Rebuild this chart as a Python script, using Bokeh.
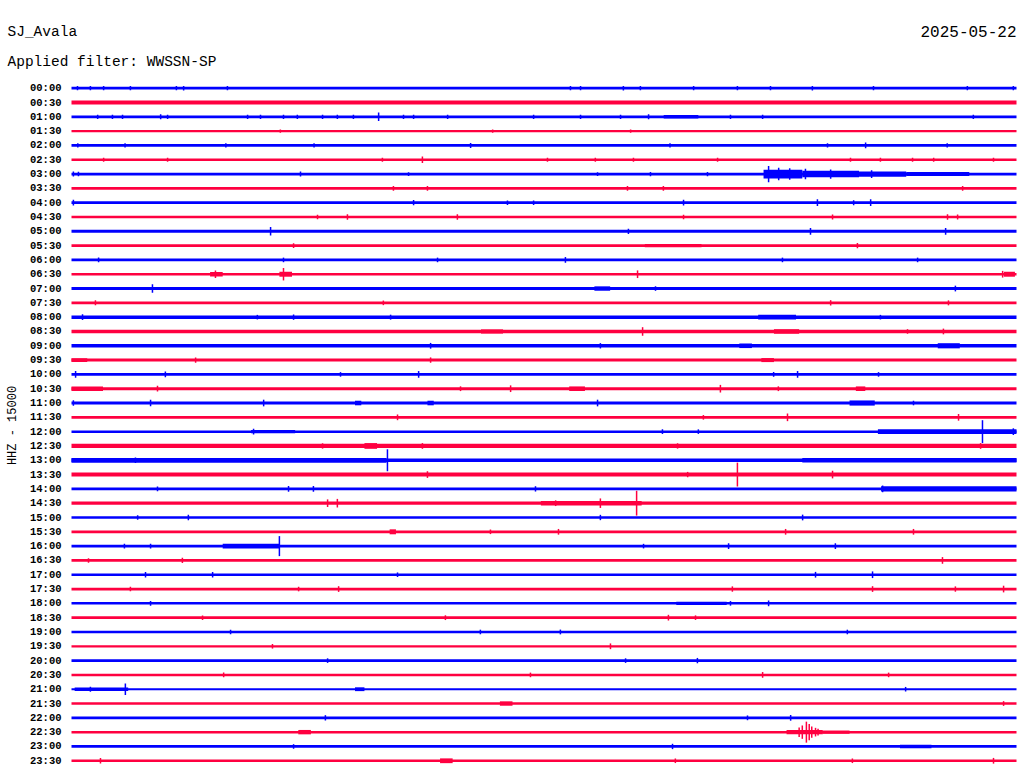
import numpy as np
from bokeh.plotting import figure
from bokeh.models import Range1d, Label
from bokeh.core.properties import value
from bokeh.embed import file_html
from bokeh.resources import INLINE

# ---------------- data ----------------
station = "SJ_Avala"
date_text = "2025-05-22"
filter_text = "Applied filter: WWSSN-SP"
channel_text = "HHZ - 15000"
counts_per_line = 15000      # trace spacing in counts
minutes_per_line = 30

line_labels = ["00:00", "00:30", "01:00", "01:30", "02:00", "02:30", "03:00", "03:30",
               "04:00", "04:30", "05:00", "05:30", "06:00", "06:30", "07:00", "07:30",
               "08:00", "08:30", "09:00", "09:30", "10:00", "10:30", "11:00", "11:30",
               "12:00", "12:30", "13:00", "13:30", "14:00", "14:30", "15:00", "15:30",
               "16:00", "16:30", "17:00", "17:30", "18:00", "18:30", "19:00", "19:30",
               "20:00", "20:30", "21:00", "21:30", "22:00", "22:30", "23:00", "23:30"]

# background noise half-amplitude per line (counts)
base_noise = [1400, 2000, 1400, 1200, 1400, 1400, 1400, 1500,
              1400, 1400, 1600, 1400, 1400, 1400, 1600, 1400,
              1800, 1800, 1800, 1600, 1500, 1600, 1500, 1400,
              1300, 2200, 1800, 2100, 1400, 1700, 1400, 1400,
              1400, 1500, 1300, 1400, 1300, 1400, 1400, 1200,
              1400, 1300, 1100, 1300, 1400, 1300, 1400, 1400]

# noisy intervals: (line, start minute, end minute, half-amplitude counts)
bursts = [
    (2, 18.8, 19.9, 1800),
    (6, 21.97, 23.2, 4600), (6, 23.2, 25.0, 3400), (6, 25.0, 26.5, 2700), (6, 26.5, 28.5, 2100),
    (11, 18.2, 20.0, 1700),
    (13, 4.4, 4.8, 2400), (13, 6.6, 7.0, 2600), (13, 29.6, 29.95, 2600),
    (14, 16.6, 17.1, 2300),
    (16, 21.8, 23.0, 2400),
    (17, 13.0, 13.7, 2200), (17, 22.3, 23.1, 2400),
    (18, 21.2, 21.6, 2400), (18, 27.5, 28.2, 2700),
    (19, 0.0, 0.5, 2000), (19, 21.9, 22.3, 2100),
    (21, 0.0, 1.0, 2300), (21, 15.8, 16.3, 2400), (21, 24.9, 25.2, 2400),
    (22, 9.0, 9.2, 2400), (22, 11.3, 11.5, 2400), (22, 24.7, 25.5, 2700),
    (24, 5.7, 7.1, 1800), (24, 25.6, 30.0, 2400),
    (25, 9.3, 9.7, 3000),
    (26, 0.0, 10.0, 2500), (26, 23.2, 30.0, 2300),
    (28, 25.7, 30.0, 2700),
    (29, 14.9, 18.1, 2300),
    (31, 10.1, 10.3, 2600),
    (32, 4.8, 6.6, 2500),
    (36, 19.2, 20.8, 1700),
    (42, 0.1, 1.8, 1800), (42, 9.0, 9.3, 2000),
    (43, 13.6, 14.0, 2300),
    (45, 7.2, 7.6, 2300), (45, 22.7, 23.85, 2300), (45, 23.85, 24.7, 1700),
    (46, 26.3, 27.3, 1900),
    (47, 11.7, 12.1, 2500),
]

# individual peaks: (line, minute, half-amplitude counts)
spikes = [
    (0, 0.19, 2200), (0, 0.60, 2200), (0, 1.02, 2200), (0, 1.87, 2200), (0, 3.33, 2200),
    (0, 3.56, 2400), (0, 4.95, 2200), (0, 15.84, 2200), (0, 16.16, 2200), (0, 17.52, 2400),
    (0, 18.06, 2200), (0, 19.75, 2200), (0, 21.14, 2200), (0, 22.19, 2200), (0, 23.52, 2400),
    (0, 25.46, 2200), (0, 28.44, 2200), (0, 29.90, 2200),
    (2, 0.83, 2200), (2, 1.30, 2200), (2, 1.62, 2200), (2, 2.83, 2600), (2, 3.05, 2200),
    (2, 5.59, 2200), (2, 6.00, 2200), (2, 6.73, 2200), (2, 7.17, 2200), (2, 7.97, 2200),
    (2, 8.44, 2200), (2, 8.95, 2200), (2, 9.75, 4500), (2, 10.54, 2200), (2, 10.86, 2200),
    (2, 11.94, 2200), (2, 14.67, 2200), (2, 16.16, 2200), (2, 17.43, 2200), (2, 18.32, 2600),
    (2, 20.92, 2200), (2, 21.94, 2200), (2, 28.63, 2200),
    (3, 6.63, 1800), (3, 13.37, 1800), (3, 17.75, 1800),
    (4, 0.2, 2200), (4, 1.7, 2200), (4, 4.9, 2200), (4, 7.7, 2200), (4, 12.67, 2600),
    (4, 19.0, 2200), (4, 24.0, 2200), (4, 25.21, 3000), (4, 27.8, 2200),
    (5, 1.02, 2200), (5, 3.05, 2200), (5, 9.87, 2200), (5, 11.14, 3500), (5, 15.11, 2200),
    (5, 16.63, 2200), (5, 17.84, 2200), (5, 20.51, 2200), (5, 24.73, 2200), (5, 25.68, 2200),
    (5, 26.70, 2200), (5, 27.37, 2200), (5, 29.27, 2200),
    (6, 0.06, 2600), (6, 0.22, 2400), (6, 7.27, 2600), (6, 10.70, 2000), (6, 16.70, 2000),
    (6, 18.38, 2200), (6, 20.19, 2200),
    (6, 22.13, 8500), (6, 22.45, 6500), (6, 22.80, 6000), (6, 23.30, 5500), (6, 24.10, 4800),
    (6, 25.40, 4000),
    (7, 10.22, 2600), (7, 11.30, 2600), (7, 17.65, 2400), (7, 18.79, 2400), (7, 28.29, 2600),
    (8, 0.06, 3000), (8, 10.86, 2800), (8, 13.84, 2400), (8, 14.67, 2400), (8, 19.43, 3000),
    (8, 23.68, 3500), (8, 24.83, 2600), (8, 25.37, 3500),
    (9, 7.81, 2400), (9, 8.76, 3000), (9, 12.25, 3000), (9, 19.43, 2400), (9, 24.16, 2600),
    (9, 27.81, 3000), (9, 28.13, 2600),
    (10, 6.32, 4500), (10, 17.68, 2800), (10, 23.46, 3500), (10, 27.75, 3500),
    (11, 7.05, 2600), (11, 24.95, 2800),
    (12, 0.86, 2500), (12, 6.73, 2400), (12, 11.62, 2400), (12, 15.68, 3000), (12, 22.57, 2400),
    (12, 26.86, 2400),
    (13, 4.57, 4000), (13, 6.73, 6500), (13, 17.97, 4000), (13, 29.56, 3500),
    (14, 2.57, 4500), (14, 18.54, 2400), (14, 28.06, 3000),
    (15, 0.76, 2600), (15, 9.90, 2400), (15, 24.10, 2800), (15, 27.84, 2600),
    (16, 0.35, 3000), (16, 5.90, 2400), (16, 7.05, 2800), (16, 10.13, 2600), (16, 25.68, 2400),
    (17, 18.13, 4500), (17, 26.54, 2400), (17, 27.68, 3000),
    (18, 11.40, 3000), (18, 16.79, 2800),
    (19, 3.94, 2800), (19, 11.40, 2800),
    (20, 0.13, 3500), (20, 2.98, 3000), (20, 8.54, 2400), (20, 11.02, 3500), (20, 22.29, 2500),
    (20, 23.05, 3500), (20, 25.62, 2400),
    (21, 2.73, 3000), (21, 12.35, 2500), (21, 13.94, 3500), (21, 20.60, 4000), (21, 22.44, 2500),
    (22, 0.06, 2800), (22, 2.51, 3500), (22, 6.10, 3500), (22, 16.70, 3500), (22, 26.73, 2400),
    (23, 10.35, 3000), (23, 20.06, 2400), (23, 22.73, 4000), (23, 28.16, 3500),
    (24, 5.78, 3000), (24, 18.76, 2500), (24, 19.90, 2400), (24, 28.92, 12000), (24, 29.90, 3500),
    (25, 11.14, 3000), (25, 7.97, 2800), (25, 19.24, 2800), (25, 28.86, 3000),
    (26, 10.03, 11500), (26, 2.03, 2800),
    (27, 11.30, 3500), (27, 19.56, 2800), (27, 21.14, 12500), (27, 24.16, 4000),
    (28, 2.73, 2400), (28, 6.89, 3000), (28, 7.68, 3000), (28, 14.73, 2800), (28, 25.75, 3500),
    (29, 8.13, 4000), (29, 8.44, 4500), (29, 15.37, 3000), (29, 16.79, 5000), (29, 17.94, 13000),
    (30, 2.10, 2400), (30, 3.71, 3000), (30, 16.79, 2800), (30, 23.21, 3000),
    (31, 13.30, 2400), (31, 15.46, 3000), (31, 22.67, 3000), (31, 26.73, 3000),
    (32, 1.68, 2400), (32, 2.51, 2400), (32, 6.60, 10500), (32, 18.16, 2400), (32, 20.86, 3000),
    (32, 24.25, 3000),
    (33, 0.54, 2400), (33, 3.52, 2800), (33, 27.65, 3500),
    (34, 2.35, 3000), (34, 4.48, 3000), (34, 10.35, 2400), (34, 23.62, 3000), (34, 25.43, 3500),
    (35, 1.87, 2400), (35, 7.21, 2400), (35, 8.48, 3000), (35, 20.98, 2800), (35, 25.43, 3000),
    (35, 28.06, 2800), (35, 29.59, 3500),
    (36, 2.51, 2400), (36, 20.92, 2400), (36, 22.13, 3000),
    (37, 4.16, 2400), (37, 11.87, 2500), (37, 18.95, 3000), (37, 19.81, 2400),
    (38, 5.05, 2400), (38, 12.98, 2400), (38, 15.52, 2500), (38, 24.63, 2400),
    (39, 6.38, 2400), (39, 17.11, 3000),
    (40, 8.13, 2400), (40, 17.59, 2400), (40, 19.87, 2800),
    (41, 4.83, 2500), (41, 14.57, 2400), (41, 21.94, 3000), (41, 25.94, 2400),
    (42, 0.60, 2600), (42, 1.71, 6000), (42, 26.48, 2400),
    (43, 29.59, 2500),
    (44, 8.06, 2800), (44, 21.46, 2500), (44, 22.83, 3000),
    (45, 23.10, 5000), (45, 23.20, 7000), (45, 23.33, 11000), (45, 23.42, 8500),
    (45, 23.50, 6000), (45, 23.62, 4500), (45, 23.70, 3500),
    (46, 7.05, 2400), (46, 19.08, 2800),
    (47, 0.92, 2800), (47, 19.17, 2400), (47, 24.79, 2400), (47, 29.27, 3000),
]

# ---------------- plot ----------------
BLUE = "#0000ff"
RED = "#ff0040"
n_lines = len(line_labels)
line_color = [BLUE if i % 2 == 0 else RED for i in range(n_lines)]

W, H = 1024, 780
px_per_min = 31.5
px_per_line = 14.31
x_start = -71 / px_per_min
x_end = x_start + W / px_per_min
y_top = -87.7 / px_per_line
y_bottom = y_top + H / px_per_line

p = figure(width=W, height=H, output_backend="svg", toolbar_location=None,
           x_range=Range1d(x_start, x_end), y_range=Range1d(y_bottom, y_top),
           x_axis_location=None, y_axis_location=None,
           min_border=0, min_border_left=0, min_border_right=0,
           min_border_top=0, min_border_bottom=0)
p.grid.visible = False
p.outline_line_color = None
p.background_fill_color = "white"
p.border_fill_color = "white"

idx = np.arange(n_lines)
base = np.array(base_noise) / counts_per_line
p.quad(left=0, right=minutes_per_line, bottom=idx - base, top=idx + base,
       fill_color=line_color, line_color=None)

b_line = np.array([b[0] for b in bursts])
b_amp = np.array([b[3] for b in bursts]) / counts_per_line
p.quad(left=[b[1] for b in bursts], right=[b[2] for b in bursts],
       bottom=b_line - b_amp, top=b_line + b_amp,
       fill_color=[line_color[i] for i in b_line], line_color=None)

s_line = np.array([s[0] for s in spikes])
s_t = np.array([s[1] for s in spikes])
s_amp = np.array([s[2] for s in spikes]) / counts_per_line
p.segment(x0=s_t, x1=s_t, y0=s_line - s_amp, y1=s_line + s_amp,
          line_color=[line_color[i] for i in s_line], line_width=1.5)

mono = value("Liberation Mono")
p.text(x=-10 / px_per_min, y=idx, text=line_labels, text_align="right", text_baseline="middle",
       text_font=mono, text_font_size="10.5px", text_font_style="bold", text_color="black")

p.add_layout(Label(x=7, y=H - 31, x_units="screen", y_units="screen", text=station,
                   text_font="Liberation Mono", text_font_size="14.5px",
                   text_baseline="middle", text_align="left", text_color="black"))
p.add_layout(Label(x=1016, y=H - 31, x_units="screen", y_units="screen", text=date_text,
                   text_font="Liberation Mono", text_font_size="16px",
                   text_baseline="middle", text_align="right", text_color="black"))
p.add_layout(Label(x=7, y=H - 61, x_units="screen", y_units="screen", text=filter_text,
                   text_font="Liberation Mono", text_font_size="14.5px",
                   text_baseline="middle", text_align="left", text_color="black"))
p.add_layout(Label(x=12, y=H - 425, x_units="screen", y_units="screen", text=channel_text,
                   text_font="Liberation Mono", text_font_size="12px", angle=np.pi / 2,
                   text_baseline="middle", text_align="center", text_color="black"))

open("out.html", "w").write(file_html(p, INLINE))
